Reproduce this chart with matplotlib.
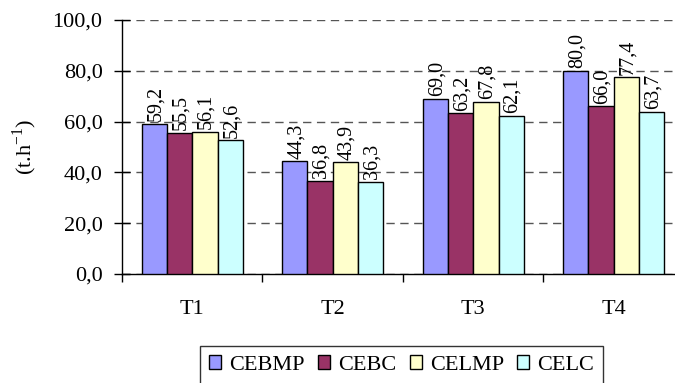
import matplotlib
matplotlib.use("Agg")
import matplotlib.pyplot as plt
import numpy as np

categories = ["T1", "T2", "T3", "T4"]
series_names = ["CEBMP", "CEBC", "CELMP", "CELC"]
cebmp = [59.2, 44.3, 69.0, 80.0]
cebc = [55.5, 36.8, 63.2, 66.0]
celmp = [56.1, 43.9, 67.8, 77.4]
celc = [52.6, 36.3, 62.1, 63.7]
series_values = [cebmp, cebc, celmp, celc]
colors = ["#9999FF", "#993366", "#FFFFCC", "#CCFFFF"]
y_ticks = [0, 20, 40, 60, 80, 100]

plt.rcParams["font.family"] = ["Liberation Serif", "DejaVu Serif"]

fig = plt.figure(figsize=(6.75, 3.83), dpi=100)
ax = fig.add_axes([122 / 675, 109 / 383, 562 / 675, 254 / 383])

x = np.arange(len(categories))
bw = 0.18
for i, (name, vals, col) in enumerate(zip(series_names, series_values, colors)):
    pos = x + (i - 1.5) * bw
    bars = ax.bar(pos, vals, width=bw, color=col, edgecolor="black",
                  linewidth=1.0, label=name, zorder=3)
    for b, v in zip(bars, vals):
        ax.annotate(f"{v:.1f}".replace(".", ","),
                    (b.get_x() + b.get_width() / 2, v),
                    xytext=(1, 2), textcoords="offset points",
                    rotation=90, ha="center", va="bottom", fontsize=14.5)

ax.set_xlim(-0.5, 3.5)
ax.set_ylim(0, 100)
ax.set_yticks(y_ticks)
ax.set_yticklabels([f"{t:.1f}".replace(".", ",") for t in y_ticks], fontsize=16)
ax.yaxis.grid(True, linestyle=(0, (6, 4)), color="#555555", linewidth=1.0, zorder=0)
ax.set_axisbelow(True)

# category labels centred on groups, ticks on group boundaries
ax.set_xticks(x)
ax.set_xticklabels(categories, fontsize=16)
ax.tick_params(axis="x", length=0, pad=19)
ax.set_xticks(np.arange(-0.5, 4.0, 1.0), minor=True)
ax.tick_params(axis="x", which="minor", length=6, direction="out", width=1)
ax.tick_params(axis="y", length=11, direction="inout", width=1, pad=8.5)

for s in ["top", "right"]:
    ax.spines[s].set_visible(False)
ax.spines["left"].set_linewidth(1.0)
ax.spines["bottom"].set_linewidth(1.0)

fig.text(25 / 675, 1 - 147 / 383, r"(t.h$^{\mathregular{-1}}$)", rotation=90,
         ha="center", va="center", fontsize=16)

leg = fig.legend(loc="center", bbox_to_anchor=(401.5 / 675, 1 - 365 / 383),
                 ncol=4, fontsize=16, frameon=True, fancybox=False,
                 edgecolor="black", handlelength=0.55, handleheight=0.55,
                 handletextpad=0.36, columnspacing=0.6, borderpad=0.4,
                 borderaxespad=0)
leg.get_frame().set_linewidth(1.0)

fig.savefig("out.png", dpi=100)
